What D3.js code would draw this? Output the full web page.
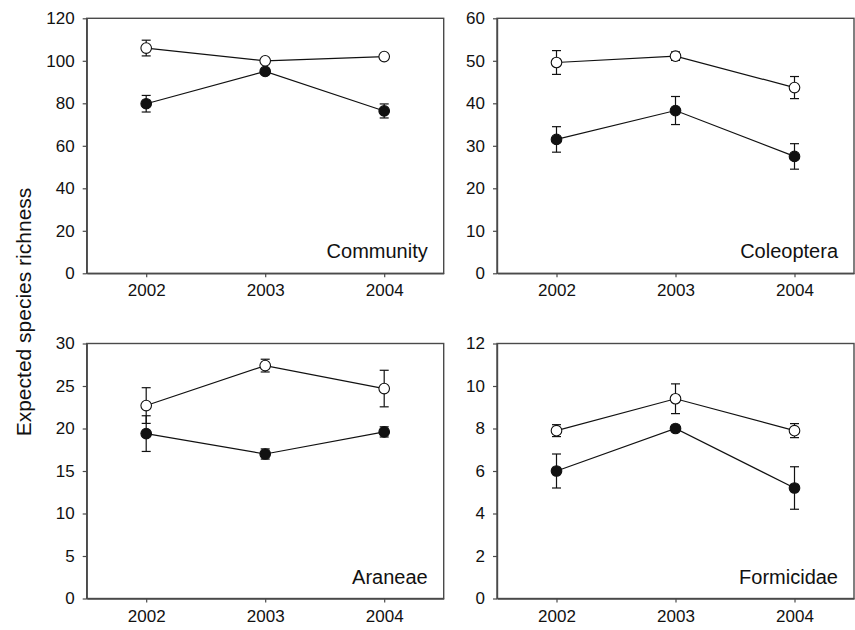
<!DOCTYPE html>
<html>
<head>
<meta charset="utf-8">
<script src="https://cdn.jsdelivr.net/npm/d3@7"></script>
<style>
  html, body { margin: 0; padding: 0; background: #fff; }
  svg { display: block; font-family: Arial, "Liberation Sans", sans-serif; }
</style>
</head>
<body>
<svg id="chart" width="855" height="630"></svg>
<script>
const years = [2002, 2003, 2004];
const panelNames = ["Community", "Coleoptera", "Araneae", "Formicidae"];
const yMaxes = [120, 60, 30, 12];
const yTickSteps = [20, 10, 5, 2];

const communityOpen = [106, 100, 102];
const communityOpenErr = [3.7, 1, 0.5];
const communityFilled = [79.8, 95, 76.4];
const communityFilledErr = [3.9, 1, 3.3];

const coleopteraOpen = [49.6, 51.1, 43.7];
const coleopteraOpenErr = [2.8, 1.0, 2.6];
const coleopteraFilled = [31.5, 38.3, 27.5];
const coleopteraFilledErr = [3.0, 3.3, 3.0];

const araneaeOpen = [22.7, 27.4, 24.7];
const araneaeOpenErr = [2.1, 0.75, 2.15];
const araneaeFilled = [19.4, 17.0, 19.6];
const araneaeFilledErr = [2.1, 0.6, 0.6];

const formicidaeOpen = [7.9, 9.4, 7.9];
const formicidaeOpenErr = [0.28, 0.7, 0.33];
const formicidaeFilled = [6.0, 8.0, 5.2];
const formicidaeFilledErr = [0.8, 0.1, 1.0];

const yTitle = "Expected species richness";

const seriesByPanel = [
  [{v: communityFilled, e: communityFilledErr, filled: true}, {v: communityOpen, e: communityOpenErr, filled: false}],
  [{v: coleopteraFilled, e: coleopteraFilledErr, filled: true}, {v: coleopteraOpen, e: coleopteraOpenErr, filled: false}],
  [{v: araneaeFilled, e: araneaeFilledErr, filled: true}, {v: araneaeOpen, e: araneaeOpenErr, filled: false}],
  [{v: formicidaeFilled, e: formicidaeFilledErr, filled: true}, {v: formicidaeOpen, e: formicidaeOpenErr, filled: false}]
];

const svg = d3.select("#chart");
const panelW = 357, panelH = 255;
const lefts = [86.7, 497, 86.7, 497];
const tops = [18.3, 18.3, 343.5, 343.5];
const frameColor = "#4a4a4a";

panelNames.forEach((name, i) => {
  const g = svg.append("g").attr("transform", `translate(${lefts[i]},${tops[i]})`);
  const x = d3.scaleLinear().domain([2001.5, 2004.5]).range([0, panelW]);
  const y = d3.scaleLinear().domain([0, yMaxes[i]]).range([panelH, 0]);

  // frame
  g.append("rect").attr("x", 0).attr("y", 0).attr("width", panelW).attr("height", panelH)
    .attr("fill", "none").attr("stroke", frameColor).attr("stroke-width", 1.4);

  const yAxis = d3.axisLeft(y)
    .tickValues(d3.range(0, yMaxes[i] + 0.001, yTickSteps[i]))
    .tickSize(4).tickSizeOuter(0).tickPadding(8);
  const gy = g.append("g").call(yAxis);
  gy.select(".domain").attr("stroke", frameColor).attr("stroke-width", 1.4);
  gy.selectAll(".tick line").attr("stroke", frameColor).attr("stroke-width", 1.2);
  gy.selectAll(".tick text").attr("font-size", 17).attr("fill", "#111")
    .attr("font-family", "Arial, 'Liberation Sans', sans-serif");

  const xAxis = d3.axisBottom(x).tickValues(years).tickFormat(d3.format("d"))
    .tickSize(4).tickSizeOuter(0).tickPadding(7);
  const gx = g.append("g").attr("transform", `translate(0,${panelH})`).call(xAxis);
  gx.select(".domain").attr("stroke", frameColor).attr("stroke-width", 1.4);
  gx.selectAll(".tick line").attr("stroke", frameColor).attr("stroke-width", 1.2);
  gx.selectAll(".tick text").attr("font-size", 17).attr("fill", "#111")
    .attr("font-family", "Arial, 'Liberation Sans', sans-serif");

  const line = d3.line().x((d, j) => x(years[j])).y(d => y(d));
  const capHalf = 4.5;

  seriesByPanel[i].forEach(s => {
    // error bars
    const eb = g.append("g");
    s.v.forEach((v, j) => {
      const cx = x(years[j]);
      const y1 = y(v + s.e[j]), y0 = y(v - s.e[j]);
      eb.append("line").attr("x1", cx).attr("x2", cx).attr("y1", y1).attr("y2", y0)
        .attr("stroke", "#111").attr("stroke-width", 1.2);
      eb.append("line").attr("x1", cx - capHalf).attr("x2", cx + capHalf).attr("y1", y1).attr("y2", y1)
        .attr("stroke", "#111").attr("stroke-width", 1.2);
      eb.append("line").attr("x1", cx - capHalf).attr("x2", cx + capHalf).attr("y1", y0).attr("y2", y0)
        .attr("stroke", "#111").attr("stroke-width", 1.2);
    });
    g.append("path").datum(s.v).attr("d", line)
      .attr("fill", "none").attr("stroke", "#111").attr("stroke-width", 1.2);
  });

  seriesByPanel[i].forEach(s => {
    g.selectAll(null).data(s.v).enter().append("circle")
      .attr("cx", (d, j) => x(years[j])).attr("cy", d => y(d))
      .attr("r", 5.3)
      .attr("fill", s.filled ? "#111" : "#fff")
      .attr("stroke", "#111").attr("stroke-width", 1.1);
  });

  g.append("text").attr("x", panelW - 16).attr("y", panelH - 15)
    .attr("text-anchor", "end").attr("font-size", 20).attr("fill", "#111")
    .text(name);
});

svg.append("text")
  .attr("transform", "translate(31,312) rotate(-90)")
  .attr("text-anchor", "middle").attr("font-size", 21).attr("fill", "#111")
  .text(yTitle);
</script>
</body>
</html>
